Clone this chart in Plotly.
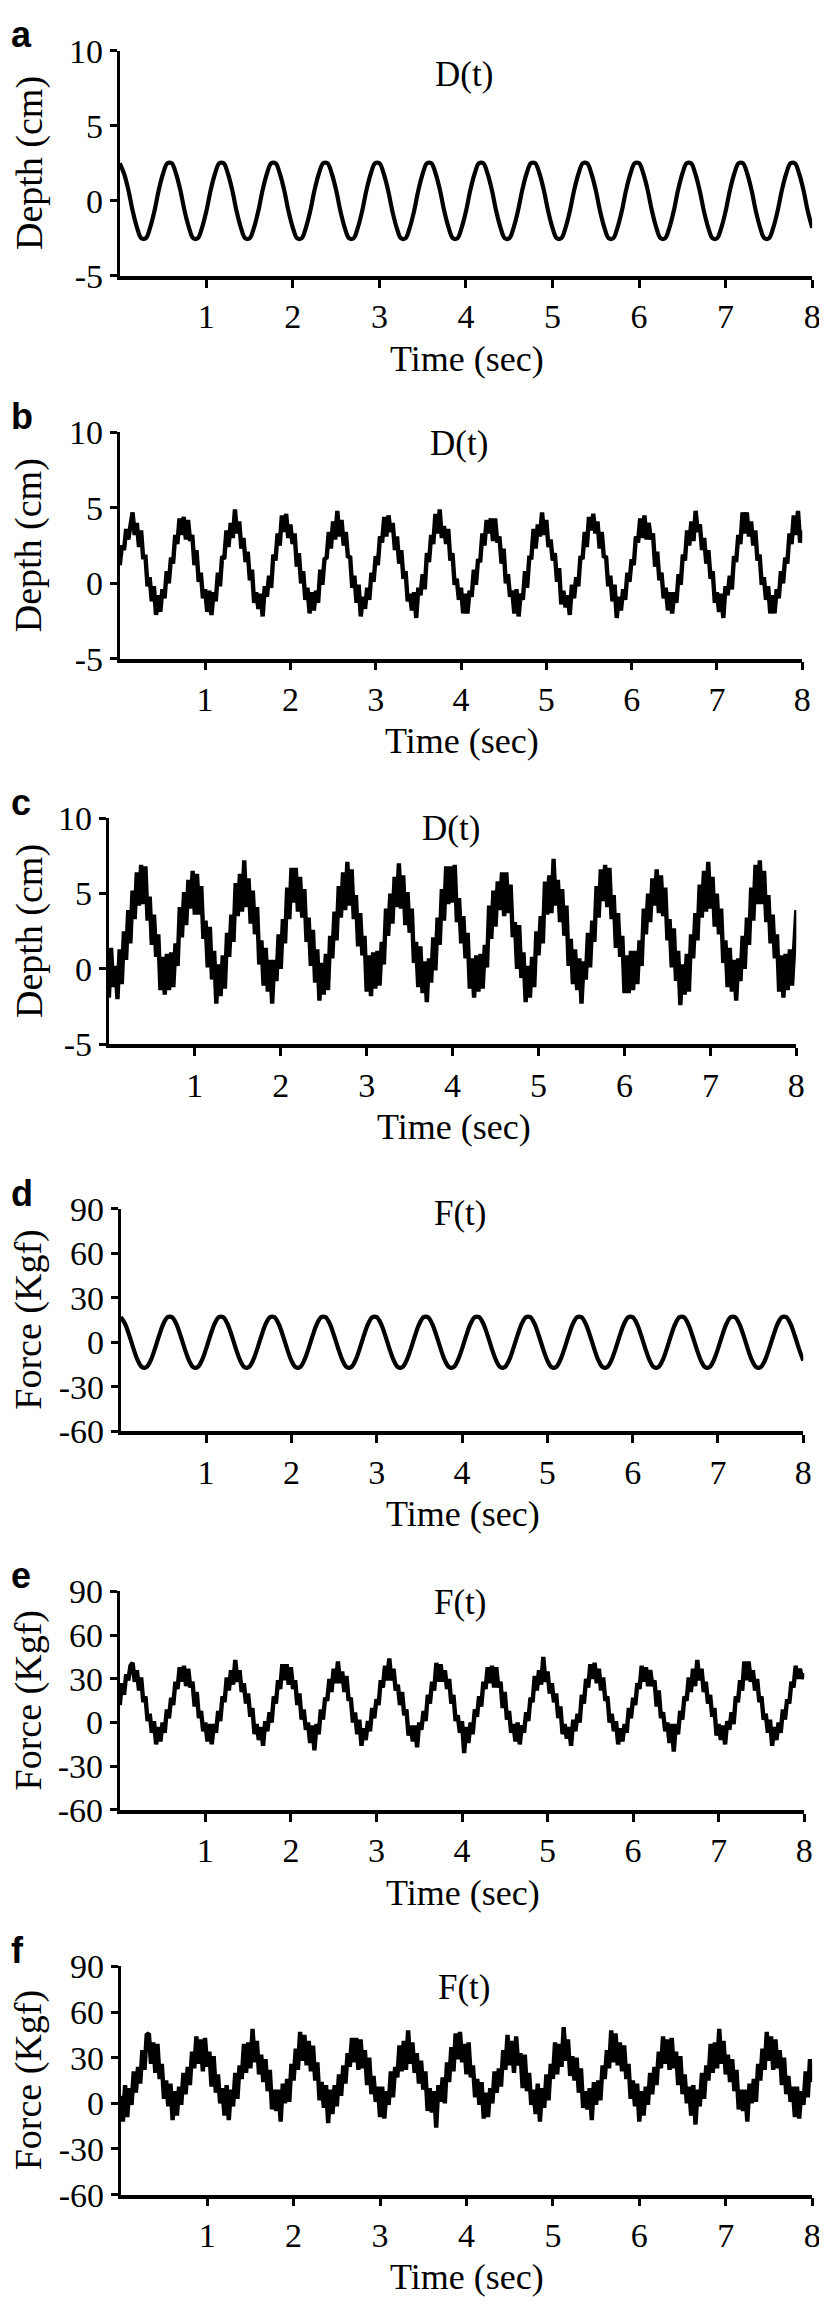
import plotly.graph_objects as go

W, H = 827, 2307
SMOOTH_DT = 0.05   # sampling step of the smooth traces (s)
NOISY_DT = 0.025   # sampling step of the noisy traces (s)

# ---------------- data ----------------
depth_a = [
    2.5, 1.8, 0.7, -0.7, -1.8, -2.5, -2.5, -1.8, -0.7, 0.7, 1.8, 2.5,
    2.5, 1.8, 0.7, -0.7, -1.8, -2.5, -2.5, -1.8, -0.7, 0.7, 1.8, 2.5,
    2.5, 1.8, 0.7, -0.7, -1.8, -2.5, -2.5, -1.8, -0.7, 0.7, 1.8, 2.5,
    2.5, 1.8, 0.7, -0.7, -1.8, -2.5, -2.5, -1.8, -0.7, 0.7, 1.8, 2.5,
    2.5, 1.8, 0.7, -0.7, -1.8, -2.5, -2.5, -1.8, -0.7, 0.7, 1.8, 2.5,
    2.5, 1.8, 0.7, -0.7, -1.8, -2.5, -2.5, -1.8, -0.7, 0.7, 1.8, 2.5,
    2.5, 1.8, 0.7, -0.7, -1.8, -2.5, -2.5, -1.8, -0.7, 0.7, 1.8, 2.5,
    2.5, 1.8, 0.7, -0.7, -1.8, -2.5, -2.5, -1.8, -0.7, 0.7, 1.8, 2.5,
    2.5, 1.8, 0.7, -0.7, -1.8, -2.5, -2.5, -1.8, -0.7, 0.7, 1.8, 2.5,
    2.5, 1.8, 0.7, -0.7, -1.8, -2.5, -2.5, -1.8, -0.7, 0.7, 1.8, 2.5,
    2.5, 1.8, 0.7, -0.7, -1.8, -2.5, -2.5, -1.8, -0.7, 0.7, 1.8, 2.5,
    2.5, 1.8, 0.7, -0.7, -1.8, -2.5, -2.5, -1.8, -0.7, 0.7, 1.8, 2.5,
    2.5, 1.8, 0.7, -0.7, -1.8, -2.5, -2.5, -1.8, -0.7, 0.7, 1.8, 2.5,
    2.5, 1.8, 0.7, -0.7, -1.8,
]

depth_b = [
    1.2, 2.5, 2.2, 3.6, 2.9, 4.1,
    4.7, 3.2, 4.0, 2.4, 3.5, 1.6, 1.9, -0.2, 0.4, -1.2, -0.2, -2.1, -0.8, -1.9, -0.4, -1.0, 0.8, 0.0, 1.7, 1.3, 3.2, 2.6, 4.3, 3.2,
    4.4, 2.9, 4.2, 2.8, 3.2, 1.2, 2.2, 0.1, 0.7, -1.0, -0.4, -1.9, -0.5, -2.1, -0.6, -1.2, 0.7, -0.2, 1.8, 1.6, 3.5, 2.4, 4.0, 3.0,
    4.9, 3.3, 4.1, 2.3, 3.0, 1.4, 2.1, 0.2, 0.9, -1.3, -0.6, -1.7, -0.7, -2.2, -0.2, -0.9, 0.5, -0.3, 1.9, 1.5, 3.3, 2.5, 4.5, 3.4,
    4.6, 3.0, 3.9, 2.6, 3.3, 1.1, 2.0, 0.0, 0.8, -1.1, -0.3, -2.0, -0.6, -1.8, -0.5, -1.3, 0.9, -0.1, 1.6, 1.7, 3.4, 2.3, 4.1, 2.9,
    4.8, 3.1, 4.2, 2.5, 3.4, 1.7, 1.8, -0.3, 0.5, -1.3, -0.1, -2.2, -0.9, -1.7, -0.3, -1.1, 0.7, 0.1, 1.8, 1.2, 3.1, 2.7, 4.4, 3.1,
    4.5, 3.4, 4.0, 2.2, 3.1, 1.3, 2.2, 0.3, 0.8, -1.2, -0.7, -1.8, -0.6, -2.3, -0.3, -0.8, 0.6, -0.4, 2.0, 1.4, 3.2, 2.6, 4.6, 3.3,
    4.9, 3.0, 3.8, 2.6, 3.6, 1.5, 2.0, -0.1, 0.3, -1.1, -0.3, -2.0, -0.7, -2.0, -0.5, -0.9, 0.9, -0.1, 1.6, 1.4, 3.3, 2.5, 4.2, 3.3,
    4.3, 2.8, 4.3, 2.7, 3.1, 1.3, 2.3, 0.0, 0.6, -0.9, -0.5, -2.0, -0.4, -2.2, -0.7, -1.1, 0.8, -0.3, 1.7, 1.7, 3.6, 2.3, 3.9, 3.1,
    4.7, 3.2, 4.2, 2.4, 2.9, 1.5, 2.0, 0.1, 1.0, -1.4, -0.5, -1.6, -0.8, -2.1, -0.1, -1.0, 0.4, -0.2, 1.8, 1.6, 3.4, 2.4, 4.4, 3.5,
    4.6, 3.3, 4.1, 2.3, 3.4, 1.7, 1.8, -0.2, 0.5, -1.2, -0.1, -2.3, -0.9, -1.8, -0.4, -1.1, 0.7, 0.1, 1.6, 1.2, 3.1, 2.7, 4.3, 3.0,
    4.5, 2.9, 4.0, 2.9, 3.3, 1.1, 2.1, 0.2, 0.7, -1.0, -0.3, -1.8, -0.6, -2.0, -0.6, -1.3, 0.6, -0.1, 1.9, 1.5, 3.5, 2.5, 4.1, 2.8,
    4.8, 3.4, 3.9, 2.2, 3.0, 1.3, 2.2, 0.3, 0.8, -1.3, -0.6, -1.9, -0.7, -2.3, -0.2, -0.8, 0.5, -0.4, 1.8, 1.4, 3.2, 2.6, 4.7, 3.3,
    4.7, 3.1, 4.1, 2.5, 3.5, 1.5, 1.9, -0.1, 0.4, -1.1, -0.2, -2.0, -0.8, -2.0, -0.4, -1.0, 0.8, 0.0, 1.7, 1.3, 3.3, 2.6, 4.5, 3.2,
    4.8, 2.7, 3.5,
]

depth_c = [
    -1.9, 1.4, -1.2, 0.2, -2.0, 1.3, -1.0, 2.5, 0.6, 3.9, 1.7, 5.2, 3.3, 6.4, 4.2,
    6.9, 4.3, 6.8, 3.2, 4.8, 1.6, 3.6, 0.8, 2.3, -1.4, 0.8, -1.7, 1.0, -1.4, 1.1, -1.2, 1.7, 0.2, 4.1, 2.1, 5.1, 2.9, 5.9, 4.0,
    6.5, 3.6, 6.3, 3.6, 5.5, 2.0, 3.2, 0.1, 2.8, -0.7, 1.2, -2.3, 0.3, -1.8, 0.9, -1.3, 2.4, 0.8, 3.6, 1.8, 5.7, 3.5, 6.3, 3.8,
    7.2, 4.1, 6.0, 3.0, 5.2, 2.3, 4.1, 0.3, 1.9, -1.1, 1.4, -1.5, 0.6, -2.3, 0.6, -0.8, 2.3, 0.0, 3.3, 1.7, 5.4, 3.3, 6.7, 4.4,
    6.7, 3.8, 6.1, 3.4, 5.3, 1.8, 3.4, 0.2, 2.6, -0.9, 1.3, -2.1, 0.4, -1.7, 1.0, -1.4, 2.2, 0.7, 3.8, 1.9, 5.5, 3.4, 6.4, 3.9,
    7.1, 4.2, 6.6, 3.3, 4.9, 1.5, 3.7, 0.9, 2.2, -1.5, 0.9, -1.8, 1.1, -1.3, 1.2, -1.1, 1.8, 0.3, 4.0, 2.2, 5.0, 3.0, 6.1, 4.1,
    7.0, 4.0, 6.2, 2.9, 5.1, 2.4, 4.0, 0.4, 1.8, -1.2, 1.5, -1.6, 0.5, -2.2, 0.7, -0.9, 2.1, -0.1, 3.4, 1.6, 5.3, 3.2, 6.8, 4.3,
    6.8, 4.4, 6.9, 3.1, 4.7, 1.7, 3.5, 0.7, 2.4, -1.3, 0.7, -1.9, 0.9, -1.5, 1.0, -1.3, 1.6, 0.1, 4.2, 2.0, 5.2, 2.8, 5.8, 3.9,
    6.4, 3.5, 6.4, 3.7, 5.6, 2.1, 3.1, 0.0, 2.9, -0.6, 1.1, -2.2, 0.2, -1.9, 0.8, -1.2, 2.5, 0.9, 3.5, 1.7, 5.8, 3.6, 6.2, 3.7,
    7.3, 4.2, 5.9, 3.1, 5.3, 2.2, 4.2, 0.2, 2.0, -1.0, 1.3, -1.4, 0.7, -2.3, 0.5, -0.7, 2.4, 0.1, 3.2, 1.8, 5.5, 3.4, 6.6, 4.5,
    6.9, 4.1, 6.7, 3.3, 4.9, 1.4, 3.7, 0.8, 2.2, -1.6, 0.9, -1.6, 1.2, -1.4, 1.2, -1.0, 1.9, 0.2, 4.0, 2.3, 5.0, 3.1, 6.0, 4.2,
    6.6, 3.7, 6.2, 3.5, 5.4, 1.9, 3.3, 0.1, 2.7, -0.8, 1.2, -2.4, 0.3, -1.7, 1.0, -1.5, 2.3, 0.7, 3.7, 1.9, 5.6, 3.4, 6.5, 3.8,
    7.1, 4.0, 6.1, 2.8, 5.0, 2.3, 4.0, 0.4, 1.9, -1.2, 1.4, -1.5, 0.6, -2.1, 0.7, -0.8, 2.2, 0.0, 3.4, 1.6, 5.4, 3.2, 6.9, 4.3,
    7.2, 4.3, 6.5, 3.1, 4.9, 1.7, 3.6, 0.7, 2.3, -1.5, 0.9, -1.9, 1.0, -1.4, 1.3, -1.1, 1.6, 3.9,
]

force_d = [
    16.9, 12.4, 4.5, -4.5, -12.4, -16.9, -16.9, -12.4, -4.5, 4.5, 12.4, 16.9,
    16.9, 12.4, 4.5, -4.5, -12.4, -16.9, -16.9, -12.4, -4.5, 4.5, 12.4, 16.9,
    16.9, 12.4, 4.5, -4.5, -12.4, -16.9, -16.9, -12.4, -4.5, 4.5, 12.4, 16.9,
    16.9, 12.4, 4.5, -4.5, -12.4, -16.9, -16.9, -12.4, -4.5, 4.5, 12.4, 16.9,
    16.9, 12.4, 4.5, -4.5, -12.4, -16.9, -16.9, -12.4, -4.5, 4.5, 12.4, 16.9,
    16.9, 12.4, 4.5, -4.5, -12.4, -16.9, -16.9, -12.4, -4.5, 4.5, 12.4, 16.9,
    16.9, 12.4, 4.5, -4.5, -12.4, -16.9, -16.9, -12.4, -4.5, 4.5, 12.4, 16.9,
    16.9, 12.4, 4.5, -4.5, -12.4, -16.9, -16.9, -12.4, -4.5, 4.5, 12.4, 16.9,
    16.9, 12.4, 4.5, -4.5, -12.4, -16.9, -16.9, -12.4, -4.5, 4.5, 12.4, 16.9,
    16.9, 12.4, 4.5, -4.5, -12.4, -16.9, -16.9, -12.4, -4.5, 4.5, 12.4, 16.9,
    16.9, 12.4, 4.5, -4.5, -12.4, -16.9, -16.9, -12.4, -4.5, 4.5, 12.4, 16.9,
    16.9, 12.4, 4.5, -4.5, -12.4, -16.9, -16.9, -12.4, -4.5, 4.5, 12.4, 16.9,
    16.9, 12.4, 4.5, -4.5, -12.4, -16.9, -16.9, -12.4, -4.5, 4.5, 12.4, 16.9,
    16.9, 12.4, 4.5, -4.5, -12.4,
]

force_e = [
    12, 27, 19, 33, 29, 39,
    41, 28, 36, 22, 31, 14, 18, 1, 6, -7, 1, -15, -3, -13, 0, -7, 9, 3, 17, 12, 28, 23, 38, 28,
    39, 25, 37, 24, 28, 11, 21, 3, 8, -6, 0, -13, -1, -15, -1, -7, 8, 1, 18, 14, 31, 22, 36, 26,
    43, 28, 36, 21, 27, 13, 20, 4, 10, -8, -1, -12, -3, -16, 1, -6, 7, 0, 18, 13, 29, 23, 40, 29,
    40, 26, 38, 23, 29, 12, 20, 2, 9, -5, 0, -14, -2, -19, -1, -8, 9, 2, 17, 15, 30, 21, 37, 27,
    42, 27, 35, 21, 32, 15, 17, 0, 7, -8, 2, -16, -4, -12, 1, -6, 10, 3, 16, 12, 29, 24, 39, 29,
    44, 29, 37, 22, 26, 12, 21, 5, 9, -9, -2, -13, -2, -17, 0, -5, 8, 1, 19, 13, 28, 22, 41, 28,
    40, 28, 36, 23, 30, 13, 19, 1, 5, -7, 1, -21, -3, -14, 0, -8, 9, 4, 18, 11, 28, 23, 38, 27,
    39, 24, 38, 24, 28, 10, 21, 2, 8, -7, -1, -13, 0, -15, -2, -7, 7, 1, 17, 14, 32, 22, 36, 26,
    45, 28, 35, 20, 27, 14, 20, 3, 11, -8, -1, -11, -3, -16, 2, -6, 6, 0, 19, 13, 30, 24, 40, 30,
    41, 27, 37, 22, 31, 15, 18, 0, 6, -6, 1, -15, -4, -13, -1, -7, 10, 3, 17, 12, 27, 23, 39, 28,
    38, 25, 36, 25, 29, 11, 22, 3, 7, -6, 0, -14, -1, -20, -1, -8, 8, 2, 18, 15, 31, 21, 37, 25,
    43, 29, 37, 21, 28, 13, 19, 4, 10, -9, -1, -12, -2, -15, 1, -5, 7, -1, 18, 14, 29, 22, 42, 29,
    42, 28, 36, 22, 30, 14, 18, 2, 6, -7, 2, -16, -3, -12, 0, -7, 9, 2, 16, 13, 28, 24, 39, 30,
    37, 30, 34,
]

force_f = [
    5, -12, 12, -9, 10, -1, 21, 7, 24, 13, 35, 22, 45,
    46, 26, 40, 20, 39, 16, 26, 3, 15, -2, 13, -11, 8, -8, 11, -1, 20, 6, 24, 12, 34, 23, 44, 26,
    42, 21, 43, 24, 34, 11, 31, 7, 19, 0, 10, -8, 12, -11, 9, -2, 20, 3, 25, 16, 39, 20, 40, 23,
    49, 27, 41, 19, 32, 14, 29, 8, 22, -4, 9, -5, 9, -12, 13, 0, 16, 1, 26, 15, 36, 22, 47, 28,
    45, 25, 41, 21, 38, 15, 27, 2, 14, -3, 12, -13, 9, -7, 12, -2, 19, 5, 25, 13, 33, 24, 43, 27,
    43, 22, 42, 23, 35, 12, 30, 6, 18, 1, 11, -9, 11, -10, 8, -1, 21, 4, 24, 17, 38, 21, 41, 22,
    48, 26, 40, 20, 33, 13, 28, 9, 21, -5, 10, -6, 8, -16, 12, 1, 17, 0, 27, 14, 37, 21, 46, 29,
    47, 27, 39, 19, 40, 17, 25, 4, 16, -1, 14, -10, 7, -9, 10, 0, 21, 7, 23, 11, 35, 22, 45, 25,
    41, 20, 44, 25, 33, 10, 32, 8, 20, -1, 9, -7, 13, -12, 10, -3, 19, 2, 26, 16, 40, 19, 39, 24,
    50, 28, 42, 18, 31, 15, 30, 7, 23, -3, 8, -4, 10, -11, 14, -1, 15, 2, 25, 16, 35, 23, 48, 27,
    46, 25, 40, 21, 38, 16, 26, 3, 15, -2, 13, -12, 8, -8, 11, -1, 20, 6, 24, 12, 34, 23, 44, 26,
    42, 22, 43, 23, 34, 12, 31, 6, 19, 0, 11, -8, 12, -14, 9, -2, 20, 3, 25, 15, 39, 20, 40, 23,
    49, 26, 41, 19, 32, 14, 29, 8, 22, -4, 9, -5, 9, -12, 13, 0, 16, 1, 26, 15, 36, 22, 47, 28,
    44, 22, 42, 23, 35, 12, 30, 6, 18, 1, 11, -9, 11, -10, 8, -1, 21, 4, 29, 14,
]

time_ticks = [1, 2, 3, 4, 5, 6, 7, 8]
depth_ticks = [-5, 0, 5, 10]
force_ticks = [-60, -30, 0, 30, 60, 90]
depth_range = [-5, 10]
force_range = [-60, 90]

panel_letters = ["a", "b", "c", "d", "e", "f"]
panel_titles = ["D(t)", "D(t)", "D(t)", "F(t)", "F(t)", "F(t)"]
y_titles = ["Depth (cm)"] * 3 + ["Force (Kgf)"] * 3
x_title = "Time (sec)"

# ---------------- layout geometry (pixels) ----------------
# (left, right, top, bottom) of each plotting area
boxes = [
    (113, 813, 25, 254),
    (113, 803, 413, 643),
    (102, 797, 805, 1035),
    (114, 804, 1202, 1428),
    (113, 805, 1591, 1813),
    (114, 813, 1972, 2204),
]
title_y_off = [24, 11, 11, 5, 11, 21]

SERIF = "Liberation Serif"
series = [
    (depth_a, SMOOTH_DT, True),
    (depth_b, NOISY_DT, False),
    (depth_c, NOISY_DT, False),
    (force_d, SMOOTH_DT, True),
    (force_e, NOISY_DT, False),
    (force_f, NOISY_DT, False),
]


def px(x):
    return x / W


def py(y):
    return 1 - y / H


def fmt(v):
    return str(v).replace("\u2212", "-")


fig = go.Figure()
annotations = []
layout = dict(
    width=W, height=H,
    margin=dict(l=0, r=0, t=0, b=0),
    paper_bgcolor="white", plot_bgcolor="white",
    showlegend=False,
)

for k, (vals, dt, smooth) in enumerate(series):
    n = k + 1
    xa = "x" if n == 1 else f"x{n}"
    ya = "y" if n == 1 else f"y{n}"
    t = [round(i * dt, 4) for i in range(len(vals))]
    fig.add_trace(go.Scatter(
        x=t, y=vals, mode="lines", xaxis=xa, yaxis=ya,
        line=dict(color="black", width=4.2 if smooth else 4.4,
                  shape="spline" if smooth else "linear"),
        hoverinfo="skip",
    ))
    l, r, top, bot = boxes[k]
    is_depth = k < 3
    yt = depth_ticks if is_depth else force_ticks
    yr = depth_range if is_depth else force_range
    layout["xaxis" if n == 1 else f"xaxis{n}"] = dict(
        domain=[px(l), px(r)], anchor=ya, range=[0, 8],
        showline=True, linecolor="black", linewidth=3.5,
        showgrid=False, zeroline=False,
        ticks="outside", ticklen=8, tickwidth=2.5, tickcolor="black",
        tickvals=time_ticks, ticktext=[str(v) for v in time_ticks],
        tickfont=dict(family=SERIF, size=34, color="black"),
        ticklabelstandoff=0,
        fixedrange=True,
    )
    layout["yaxis" if n == 1 else f"yaxis{n}"] = dict(
        domain=[py(bot), py(top)], anchor=xa, range=yr,
        showline=True, linecolor="black", linewidth=3,
        showgrid=False, zeroline=False,
        ticks="outside", ticklen=7, tickwidth=2.5, tickcolor="black",
        tickvals=yt, ticktext=[fmt(v) for v in yt],
        tickfont=dict(family=SERIF, size=34, color="black"),
        fixedrange=True,
    )
    cx = (l + r) / 2
    # panel title
    annotations.append(dict(
        x=px(cx - 2), y=py(top + title_y_off[k]), xref="paper", yref="paper",
        text=panel_titles[k], showarrow=False, xanchor="center", yanchor="middle",
        font=dict(family=SERIF, size=35, color="black"),
    ))
    # x axis title
    annotations.append(dict(
        x=px(cx + 1), y=py(bot + 84), xref="paper", yref="paper",
        text=x_title, showarrow=False, xanchor="center", yanchor="middle",
        font=dict(family=SERIF, size=36, color="black"),
    ))
    # y axis title
    annotations.append(dict(
        x=px(21), y=py((top + bot) / 2), xref="paper", yref="paper",
        text=y_titles[k], showarrow=False, textangle=-90,
        xanchor="center", yanchor="middle",
        font=dict(family=SERIF, size=38, color="black"),
    ))
    # panel letter
    annotations.append(dict(
        x=px(1), y=py(top + 7), xref="paper", yref="paper",
        text=f"<b>{panel_letters[k]}</b>", showarrow=False,
        xanchor="left", yanchor="bottom",
        font=dict(family="Liberation Sans", size=36, color="black"),
    ))

layout["annotations"] = annotations
fig.update_layout(**layout)
fig.write_html("out.html")
